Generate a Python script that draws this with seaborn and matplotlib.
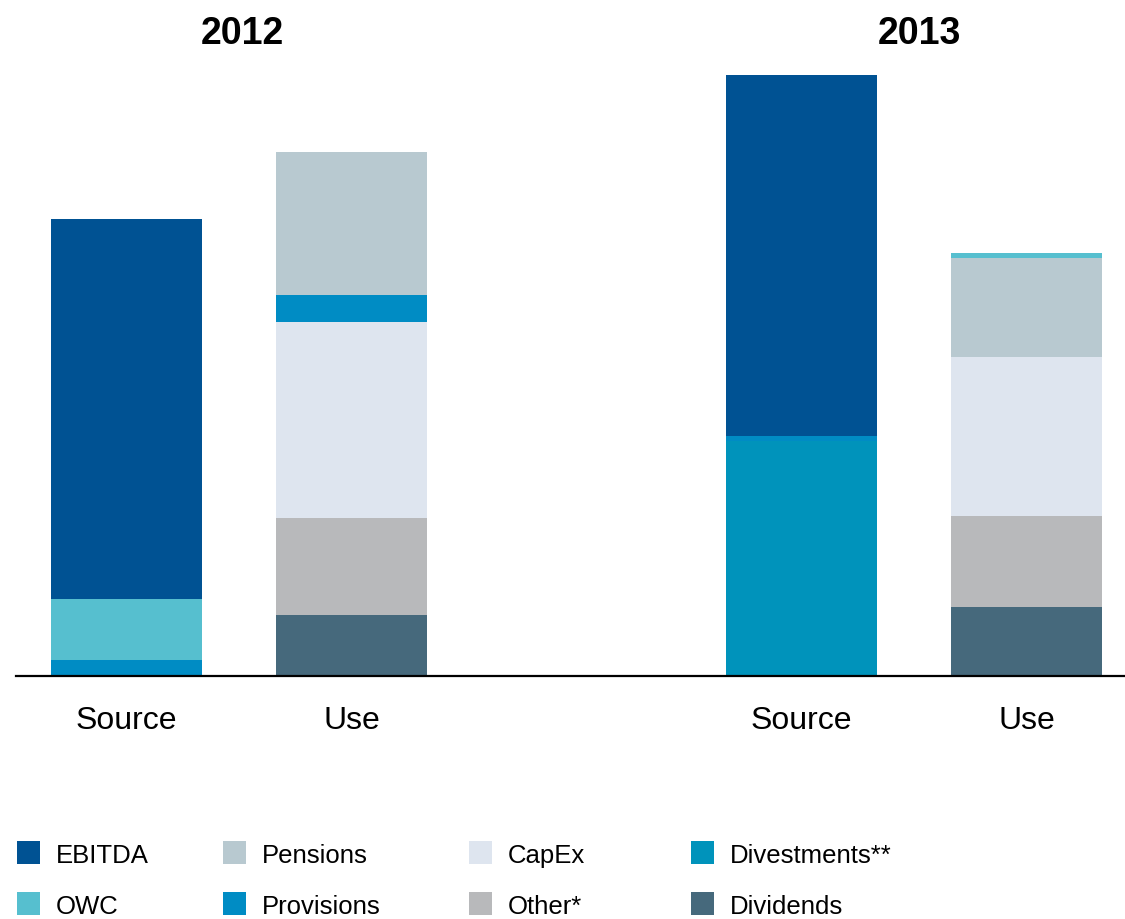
import matplotlib
matplotlib.use("Agg")
import matplotlib.pyplot as plt
from matplotlib.patches import Rectangle
import pandas as pd
import seaborn as sns

# Bars: 2012 source/use, 2013 source/use (values in bn)
bar_labels = ["Source", "Use", "Source", "Use"]
bar_positions = [0, 1, 3, 4]
years = ["2012", "2013"]

ebitda = [3.80, 0.00, 3.61, 0.00]
owc = [0.61, 0.00, 0.00, 0.05]
pensions = [0.00, 1.42, 0.00, 0.99]
provisions = [0.16, 0.27, 0.05, 0.00]
divestments = [0.00, 0.00, 2.35, 0.00]
capex = [0.00, 1.96, 0.00, 1.59]
other = [0.00, 0.97, 0.00, 0.91]
dividends = [0.00, 0.61, 0.00, 0.69]

series = {
    "EBITDA": ebitda,
    "OWC": owc,
    "Pensions": pensions,
    "Provisions": provisions,
    "Divestments**": divestments,
    "CapEx": capex,
    "Other*": other,
    "Dividends": dividends,
}

colors = {
    "EBITDA": "#005293",
    "Pensions": "#b8c9d0",
    "CapEx": "#dee5ef",
    "Divestments**": "#0093bb",
    "OWC": "#56bfcf",
    "Provisions": "#008cc4",
    "Other*": "#b8b9bb",
    "Dividends": "#46697c",
}

legend_order = ["EBITDA", "Pensions", "CapEx", "Divestments**",
                "OWC", "Provisions", "Other*", "Dividends"]

rows = []
for name, vals in series.items():
    for pos, v in zip(bar_positions, vals):
        if v > 0:
            rows.append({"pos": pos, "component": name, "value": v})
df = pd.DataFrame(rows)

sns.set_theme(style="white")
plt.rcParams["font.family"] = ["Liberation Sans", "DejaVu Sans"]

W, H = 1125, 920
fig = plt.figure(figsize=(W / 100, H / 100), dpi=100)

# axes: baseline near y=676 px, top of tallest bar near y=75 px
ax_left, ax_right = 16, 1125
ax_bottom, ax_top = 676.5, 75.5
ax = fig.add_axes([ax_left / W, 1 - ax_bottom / H,
                   (ax_right - ax_left) / W, (ax_bottom - ax_top) / H])

# first hue level ends up on top of the stack
sns.histplot(data=df, x="pos", weights="value", hue="component",
             hue_order=list(series.keys()), multiple="stack",
             discrete=True, shrink=0.671, palette=colors, alpha=1,
             linewidth=0, edgecolor="none", legend=False, ax=ax)

ax.set_ylim(0, 6.01)
x0 = -(126.5 - ax_left) / 225
ax.set_xlim(x0, x0 + (ax_right - ax_left) / 225)
ax.set_xticks(bar_positions)
ax.set_xticklabels(bar_labels, fontsize=23, color="black")
ax.tick_params(axis="x", length=0, pad=21.5)
ax.set_yticks([])
ax.set_xlabel("")
ax.set_ylabel("")
for s in ["left", "right", "top"]:
    ax.spines[s].set_visible(False)
ax.spines["bottom"].set_color("black")
ax.spines["bottom"].set_linewidth(1.6)

# year headings
for year, xpx in zip(years, [242, 919]):
    fig.text(xpx / W, 1 - 44 / H, year, ha="center", va="baseline",
             fontsize=27, fontweight="bold", color="black")

# legend: two rows of four
col_x = [17, 223, 469, 691]
row_top = [842, 893]
row_base = [863, 914]
for i, name in enumerate(legend_order):
    r, c = divmod(i, 4)
    fig.add_artist(Rectangle((col_x[c] / W, 1 - (row_top[r] + 23) / H),
                             23 / W, 23 / H, transform=fig.transFigure,
                             facecolor=colors[name], edgecolor="none"))
    fig.text((col_x[c] + 39) / W, 1 - row_base[r] / H, name,
             ha="left", va="baseline", fontsize=18.5, color="black")

fig.savefig("out.png", dpi=100)
